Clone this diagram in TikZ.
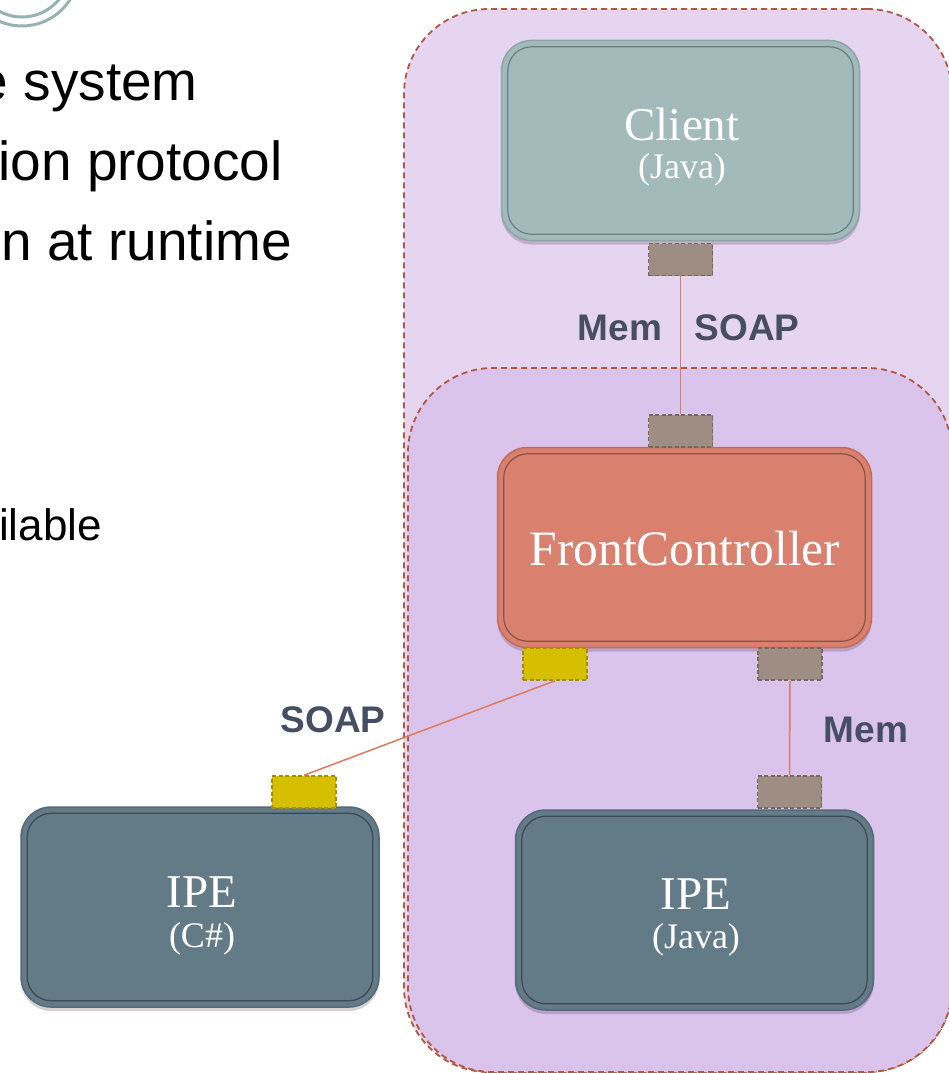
\documentclass[tikz,border=0pt]{standalone}
\usepackage{fontspec}
\setmainfont{Liberation Serif}
\newfontfamily\arialfont{Liberation Sans}
\usetikzlibrary{shadows}
\definecolor{outerfill}{HTML}{E6D5F1}
\definecolor{innerfill}{HTML}{DAC4EB}
\definecolor{dashc}{HTML}{B4583D}
\definecolor{clientfill}{HTML}{A2BABA}
\definecolor{clientline}{HTML}{8CA6A8}
\definecolor{clientinner}{HTML}{6B7E80}
\definecolor{fcfill}{HTML}{D9806E}
\definecolor{fcline}{HTML}{C26C5C}
\definecolor{fcinner}{HTML}{8A5347}
\definecolor{ipefill}{HTML}{637A87}
\definecolor{ipeline}{HTML}{55697A}
\definecolor{ipeinner}{HTML}{3B4A52}
\definecolor{portgray}{HTML}{9D8D82}
\definecolor{portgrayline}{HTML}{75695E}
\definecolor{portyellow}{HTML}{D5BF00}
\definecolor{portyellowline}{HTML}{A39000}
\definecolor{wire}{HTML}{E07A5C}
\definecolor{labelc}{HTML}{474D63}
\definecolor{ringc}{HTML}{97B2B2}
\begin{document}
\begin{tikzpicture}[x=1pt,y=-1pt,
  container/.style={draw=dashc, line width=1.8pt, dash pattern=on 6pt off 4pt, rectangle, rounded corners=85pt, inner sep=0pt},
  comp/.style={draw, rectangle, rounded corners=30pt, minimum width=358pt, minimum height=200pt, line width=1.5pt, inner sep=0pt,
    drop shadow={shadow xshift=0pt, shadow yshift=-4pt, opacity=0.18, fill=black!70!violet}},
  innerline/.style={line width=1.2pt, rounded corners=24pt},
  port/.style={rectangle, minimum width=64pt, minimum height=32pt, inner sep=0pt, line width=1.5pt, dash pattern=on 4pt off 2.5pt},
  grayport/.style={port, fill=portgray, draw=portgrayline},
  yellowport/.style={port, fill=portyellow, draw=portyellowline},
  wireline/.style={draw=wire, line width=1.5pt},
  maintext/.style={text=white, font=\fontsize{47}{50}\selectfont, anchor=base, inner sep=0pt},
  subtext/.style={text=white, font=\fontsize{36}{40}\selectfont, anchor=base, inner sep=0pt},
  proto/.style={text=labelc, font=\arialfont\bfseries\fontsize{37}{40}\selectfont, anchor=base, inner sep=0pt},
  bullettext/.style={text=black, font=\arialfont\fontsize{55}{58}\selectfont, anchor=base east, inner sep=0pt}
]
\useasboundingbox (0,0) rectangle (949,1073);
\clip (0,0) rectangle (949,1073);
\fill[white] (0,0) rectangle (949,1073);

% ring at top-left
\draw[ringc, line width=3pt] (22,-31) circle[radius=57pt];
\draw[ringc, line width=3pt] (22,-31) circle[radius=48pt];

% bullet text fragments
\node[bullettext] (t1) at (198,100) {e system};
\node[bullettext] (t2) at (283,180) {ion protocol};
\node[bullettext] (t3) at (292,260) {n at runtime};
\node[bullettext, font=\arialfont\fontsize{44}{46}\selectfont] (t4) at (102,540) {ilable};

% containers
\node[container, fill=outerfill, minimum width=548pt, minimum height=1063pt] (outer) at (678,540.5) {};
\node[container, fill=innerfill, minimum width=544pt, minimum height=704pt] (inner) at (680,720) {};

% components
\node[comp, fill=clientfill, draw=clientline] (client) at (680.5,140.5) {};
\draw[innerline, clientinner] ([shift={(7,7)}]client.north west) rectangle ([shift={(-7,-7)}]client.south east);
\node[maintext] (clientname) at (682,140) {Client};
\node[subtext] (clientlang) at (682,178) {(Java)};

\node[comp, fill=fcfill, draw=fcline, minimum width=374pt, minimum height=200pt] (fc) at (684.5,547.5) {};
\draw[innerline, fcinner] ([shift={(7,7)}]fc.north west) rectangle ([shift={(-7,-7)}]fc.south east);
\node[maintext, font=\fontsize{49.5}{52}\selectfont] (fcname) at (685,565) {FrontController};

\node[comp, fill=ipefill, draw=ipeline] (ipej) at (694.5,910) {};
\draw[innerline, ipeinner] ([shift={(7,7)}]ipej.north west) rectangle ([shift={(-7,-7)}]ipej.south east);
\node[maintext] (ipejname) at (696,909) {IPE};
\node[subtext] (ipejlang) at (696,948) {(Java)};

\node[comp, fill=ipefill, draw=ipeline] (ipec) at (200,907) {};
\draw[innerline, ipeinner] ([shift={(7,7)}]ipec.north west) rectangle ([shift={(-7,-7)}]ipec.south east);
\node[maintext] (ipecname) at (202,907) {IPE};
\node[subtext] (ipeclang) at (202,947) {(C\#)};

% ports
\node[grayport] (p1) at (680.5,259.5) {};
\node[grayport] (p2) at (680.5,431) {};
\node[yellowport] (p3) at (555,664) {};
\node[grayport] (p4) at (790,664) {};
\node[grayport] (p5) at (789.5,792) {};
\node[yellowport] (p6) at (304,792) {};

% connectors
\draw[wireline] (p1.south) -- (p2.north);
\draw[wireline] (p3.south) -- (p6.north);
\draw[wireline] (p4.south) -- (p5.north);

% protocol labels
\node[proto] (lmem1) at (620,340) {Mem};
\node[proto] (lsoap1) at (747,340) {SOAP};
\node[proto] (lsoap2) at (333,732) {SOAP};
\node[proto] (lmem2) at (866,742) {Mem};
\end{tikzpicture}
\end{document}
